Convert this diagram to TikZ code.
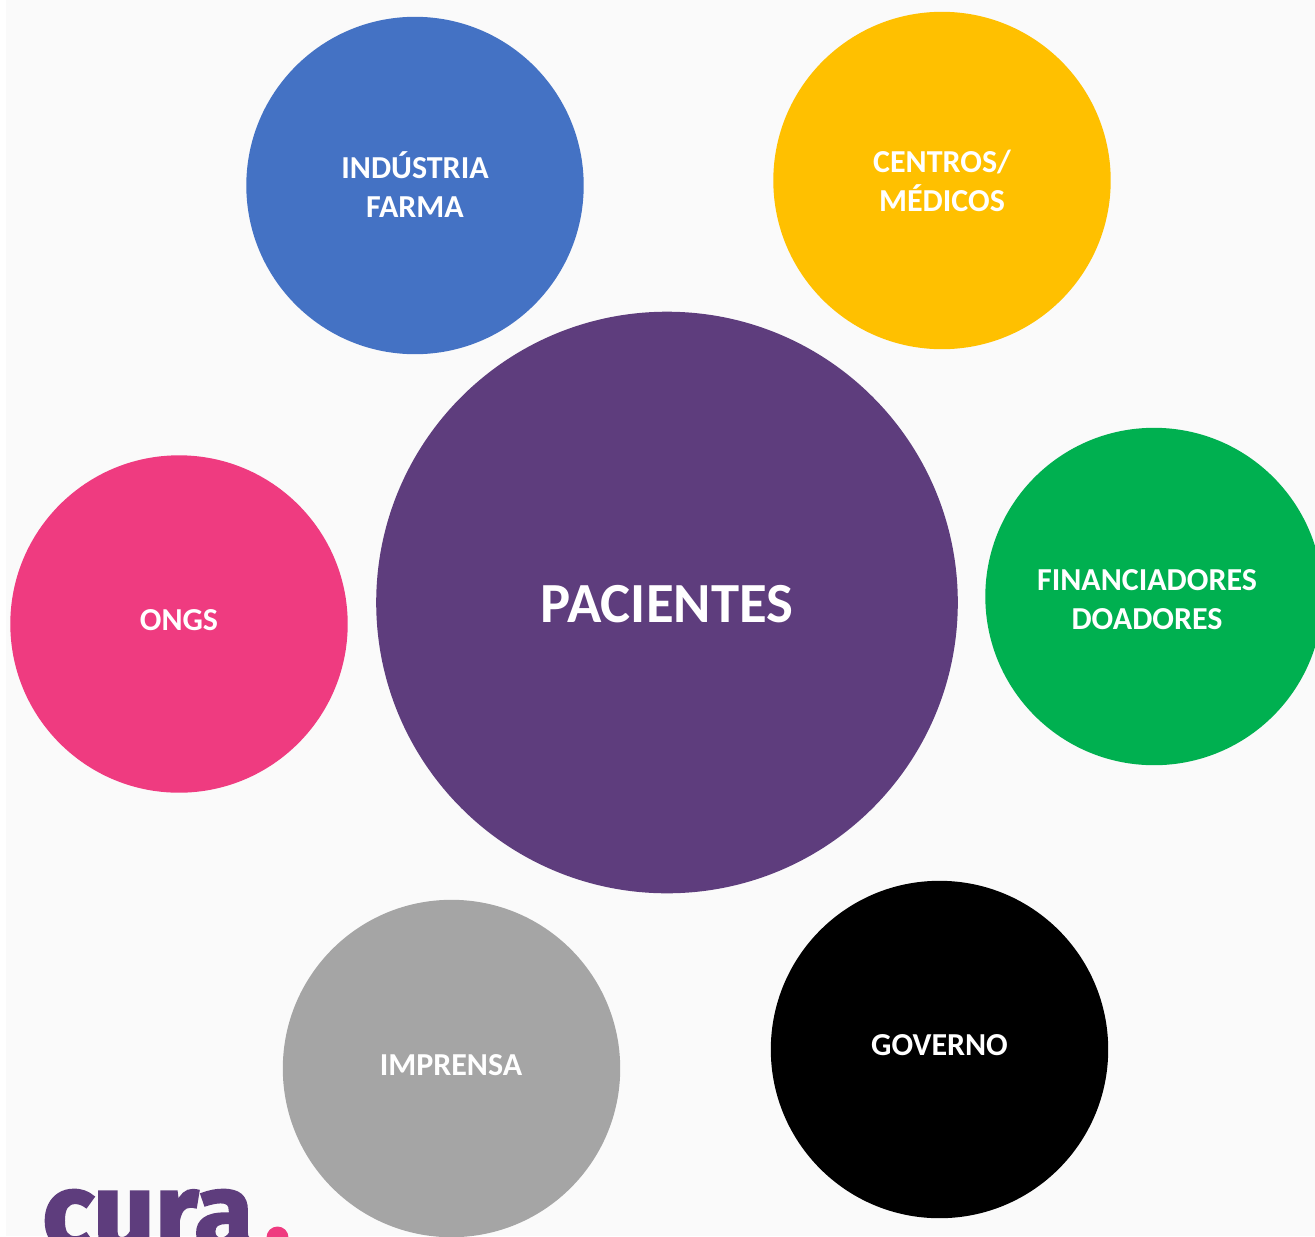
\documentclass[tikz,border=0pt]{standalone}
\usepackage{fontspec}
\setmainfont{Carlito}
\newfontfamily\logofont[FakeBold=2.2]{Fira Sans}
\definecolor{bgc}{HTML}{FAFAFA}
\definecolor{purp}{HTML}{5E3D7D}
\definecolor{blu}{HTML}{4472C4}
\definecolor{yel}{HTML}{FFC000}
\definecolor{grn}{HTML}{00B050}
\definecolor{pnk}{HTML}{EF3B80}
\definecolor{gry}{HTML}{A5A5A5}
\tikzset{
  bub/.style={circle,inner sep=0pt,minimum size=168.7pt},
  lab/.style={text=white,font=\bfseries\fontsize{16}{19.5}\selectfont,align=center,inner sep=0pt},
}
\begin{document}
\begin{tikzpicture}[x=0.5pt,y=-0.5pt]
\useasboundingbox (0,0) rectangle (1315,1236);
\clip (0,0) rectangle (1315,1236);
\fill[white] (0,0) rectangle (1315,1236);
\fill[bgc] (6,0) rectangle (1315,1236);
\node[bub,fill=purp,minimum size=290.8pt] (pac) at (667,602.5) {};
\node[bub,fill=blu] (ind) at (415,185.5) {};
\node[bub,fill=yel] (cen) at (942,180.5) {};
\node[bub,fill=grn] (fin) at (1154,596.5) {};
\node[bub,fill=pnk] (ong) at (179,624) {};
\node[bub,fill=gry] (imp) at (451.5,1068.5) {};
\node[bub,fill=black] (gov) at (939.5,1049.5) {};
\node[lab,font=\bfseries\fontsize{28.35}{32}\selectfont] (tpac) at (667,604) {PACIENTES};
\node[lab] (tind) at (415,184.5) {INDÚSTRIA\\FARMA};
\node[lab] (tcen) at (942,181) {CENTROS/\\MÉDICOS};
\node[lab] (tfin) at (1147,600) {FINANCIADORES\\DOADORES};
\node[lab] (tong) at (179,620) {ONGS};
\node[lab] (timp) at (451,1065) {IMPRENSA};
\node[lab] (tgov) at (939.5,1045) {GOVERNO};
\node[anchor=base west,inner sep=0pt,text=purp,font=\logofont\bfseries\fontsize{54}{54}\selectfont] (logo) at (42,1249) {cura};
\node[circle,fill=pnk,inner sep=0pt,minimum size=11pt] (dot) at (277.5,1237.5) {};
\end{tikzpicture}
\end{document}
